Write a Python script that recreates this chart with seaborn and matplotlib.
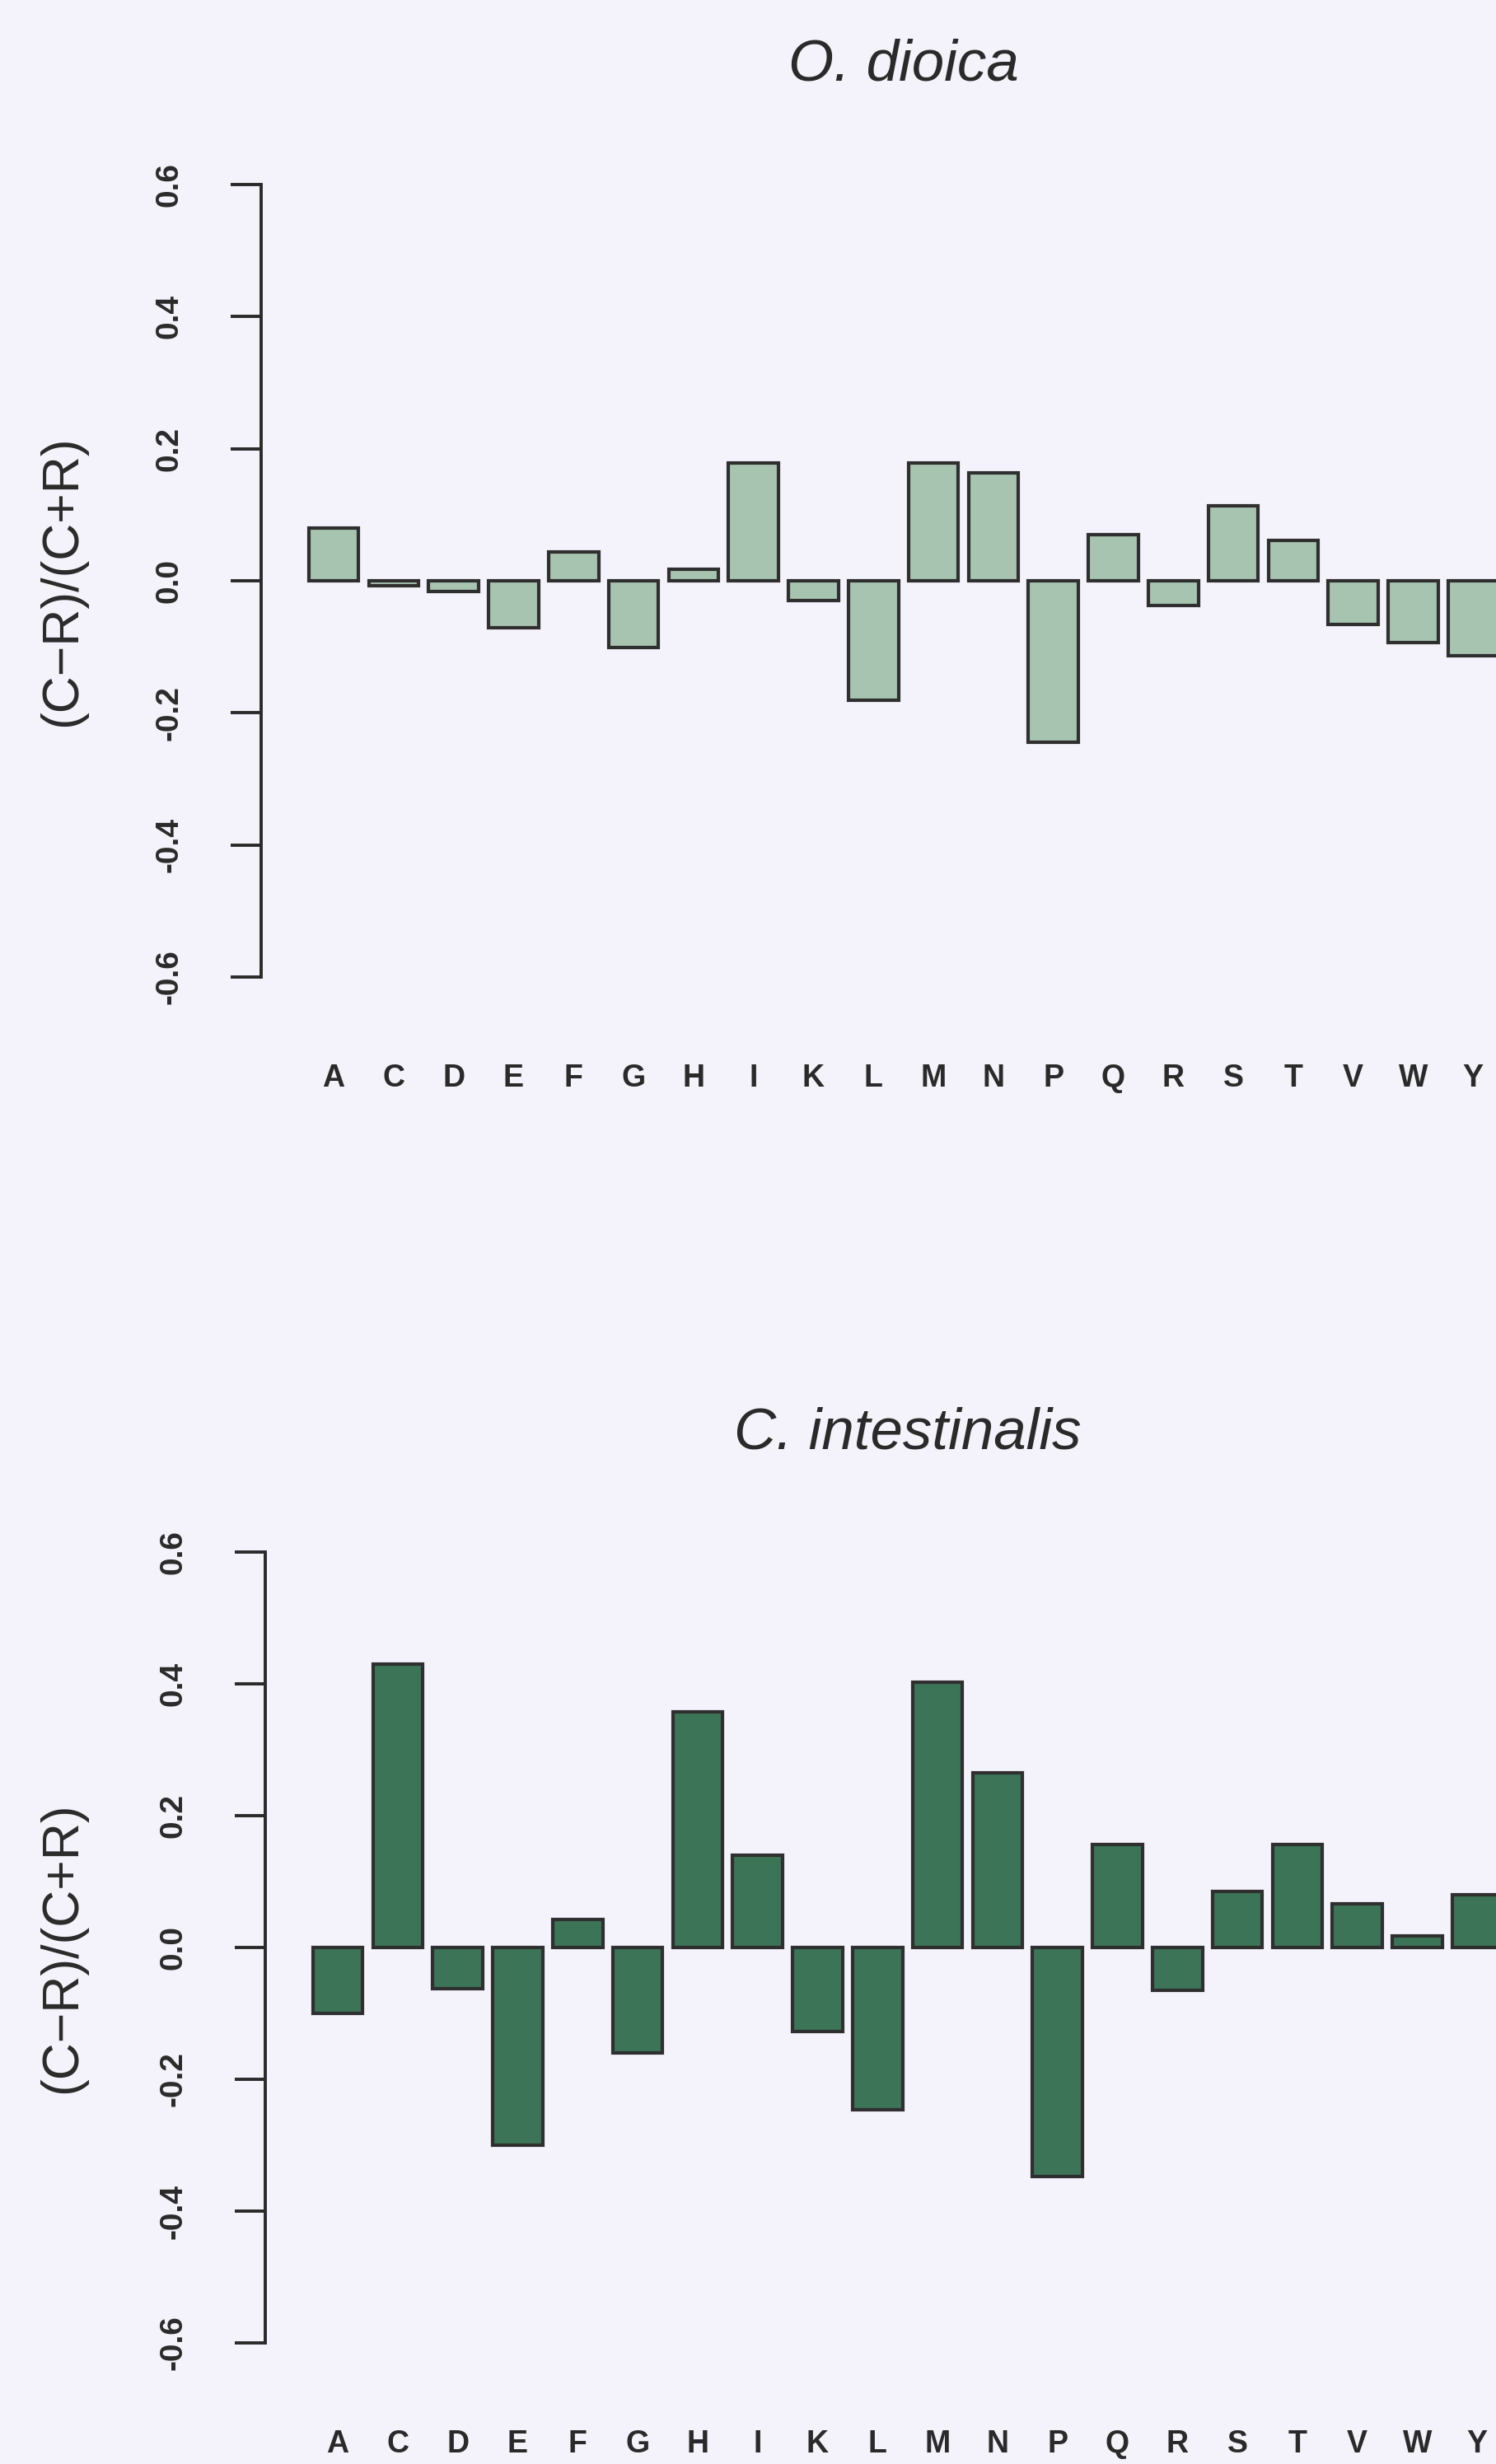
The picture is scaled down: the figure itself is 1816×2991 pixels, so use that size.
import matplotlib
matplotlib.use("Agg")
import matplotlib.pyplot as plt
import seaborn as sns
import pandas as pd

# Amino acids (one-letter codes) on the x axis
amino_acids = ["A", "C", "D", "E", "F", "G", "H", "I", "K", "L",
               "M", "N", "P", "Q", "R", "S", "T", "V", "W", "Y"]

# (C-R)/(C+R) per amino acid
dioica_values = [0.080, -0.008, -0.016, -0.071, 0.044, -0.101, 0.018, 0.178, -0.030, -0.181,
                 0.178, 0.164, -0.245, 0.070, -0.038, 0.113, 0.061, -0.066, -0.093, -0.113]
intestinalis_values = [-0.100, 0.430, -0.062, -0.300, 0.043, -0.160, 0.357, 0.140, -0.127, -0.246,
                       0.402, 0.265, -0.347, 0.156, -0.065, 0.085, 0.156, 0.066, 0.018, 0.080]

panel_titles = ["O. dioica", "C. intestinalis"]
y_label = "(C\u2212R)/(C+R)"
y_ticks = [-0.6, -0.4, -0.2, 0.0, 0.2, 0.4, 0.6]

sns.set_theme(style="white")
plt.rcParams["font.family"] = ["Liberation Sans", "DejaVu Sans"]

PAGE = "#f4f2fa"
INK = "#2a2a2a"
W, H = 1816, 2991

fig = plt.figure(figsize=(W / 100, H / 100), dpi=100, facecolor=PAGE)

panels = [
    # values, fill, left px, top-of-region px, bottom-of-region px, title x px, ylabel centre y px
    (dioica_values, "#a6c4b0", 317, 185.5, 1224.5, 1097, 705),
    (intestinalis_values, "#3c7457", 322, 1845.6, 2882.4, 1102, 2364),
]

for (vals, fill, left_px, top_px, bot_px, title_x_px, ylab_y), title in zip(panels, panel_titles):
    ax = fig.add_axes([left_px / W, 1 - bot_px / H, (W - left_px) / W, (bot_px - top_px) / H])
    ax.set_facecolor("none")
    df = pd.DataFrame({"aa": amino_acids, "val": vals})
    sns.barplot(data=df, x="aa", y="val", order=amino_acids, color=fill,
                saturation=1, width=0.833, edgecolor="#2f2f2f", linewidth=3.0, ax=ax)

    unit = 72.8  # px per category
    ax.set_xlim(-1.21, -1.21 + (W - left_px) / unit)
    ax.set_ylim(-0.648, 0.648)

    for side in ["top", "right", "bottom"]:
        ax.spines[side].set_visible(False)
    ax.spines["left"].set_bounds(-0.6, 0.6)
    ax.spines["left"].set_linewidth(2.8)
    ax.spines["left"].set_color(INK)

    ax.set_yticks(y_ticks)
    ax.set_yticklabels([f"{t:.1f}" for t in y_ticks], rotation=90, va="center",
                       fontsize=28, fontweight="bold", color=INK)
    ax.tick_params(axis="y", length=27, width=2.8, color=INK, pad=40, left=True)
    ax.tick_params(axis="x", length=0, pad=48)
    for lab in ax.get_xticklabels():
        lab.set_fontsize(27)
        lab.set_fontweight("bold")
        lab.set_color(INK)

    ax.set_xlabel("")
    ax.set_ylabel("")
    ax.set_title(title, x=(title_x_px - left_px) / (W - left_px), pad=63,
                 fontsize=51, fontstyle="italic", color=INK)

    fig.text(76 / W, 1 - ylab_y / H, y_label, rotation=90, ha="center", va="center",
             fontsize=45, color=INK)

fig.savefig("out.png", dpi=100, facecolor=PAGE)
